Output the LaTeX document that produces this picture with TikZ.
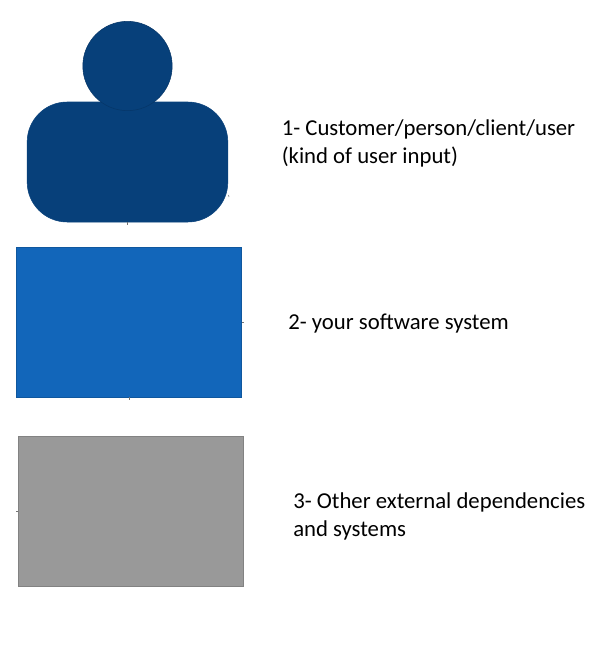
\documentclass[tikz,border=0pt]{standalone}
\usepackage{fontspec}
\setmainfont{Carlito}
\definecolor{persondark}{HTML}{07407A}
\definecolor{systemblue}{HTML}{1266BA}
\definecolor{externalgrey}{HTML}{999999}
\tikzset{
  box/.style={draw=#1!85!black, fill=#1, line width=0.6pt, inner sep=0pt, minimum width=169pt, minimum height=112.5pt},
  caption/.style={anchor=west, align=left, inner sep=0pt, font=\fontsize{17.05}{21}\selectfont},
  tick/.style={draw=black!55, line width=0.4pt}
}

\begin{document}
\begin{tikzpicture}[x=0.75pt,y=-0.75pt]
\useasboundingbox (0,0) rectangle (594,650);
% person
\node[draw=persondark, fill=persondark, rounded corners=30pt, inner sep=0pt, minimum width=150.5pt, minimum height=90pt] (body) at (127.5,162) {};
\node[draw=persondark!85!black, fill=persondark, circle, line width=0.4pt, inner sep=0pt, minimum size=67pt] (head) at (127.5,66) {};
\draw[tick] (body.south) -- ++(0,3);
\draw[tick] (228.5,195) -- ++(0.5,2);
% system and dependencies
\node[box=systemblue] (system) at (129,322) {};
\node[box=externalgrey] (external) at (130.7,511) {};
\draw[tick] (system.south) -- ++(0,3);
\draw[tick] (system.east) -- ++(2,0);
\draw[tick] (external.west) -- ++(-2,0);
% captions
\node[caption] (usertext) at (281.5,143) {1- Customer/person/client/user\\(kind of user input)};
\node[caption] (systemtext) at (288,324) {2- your software system};
\node[caption] (externaltext) at (293,516) {3- Other external dependencies\\and systems};
\end{tikzpicture}
\end{document}
